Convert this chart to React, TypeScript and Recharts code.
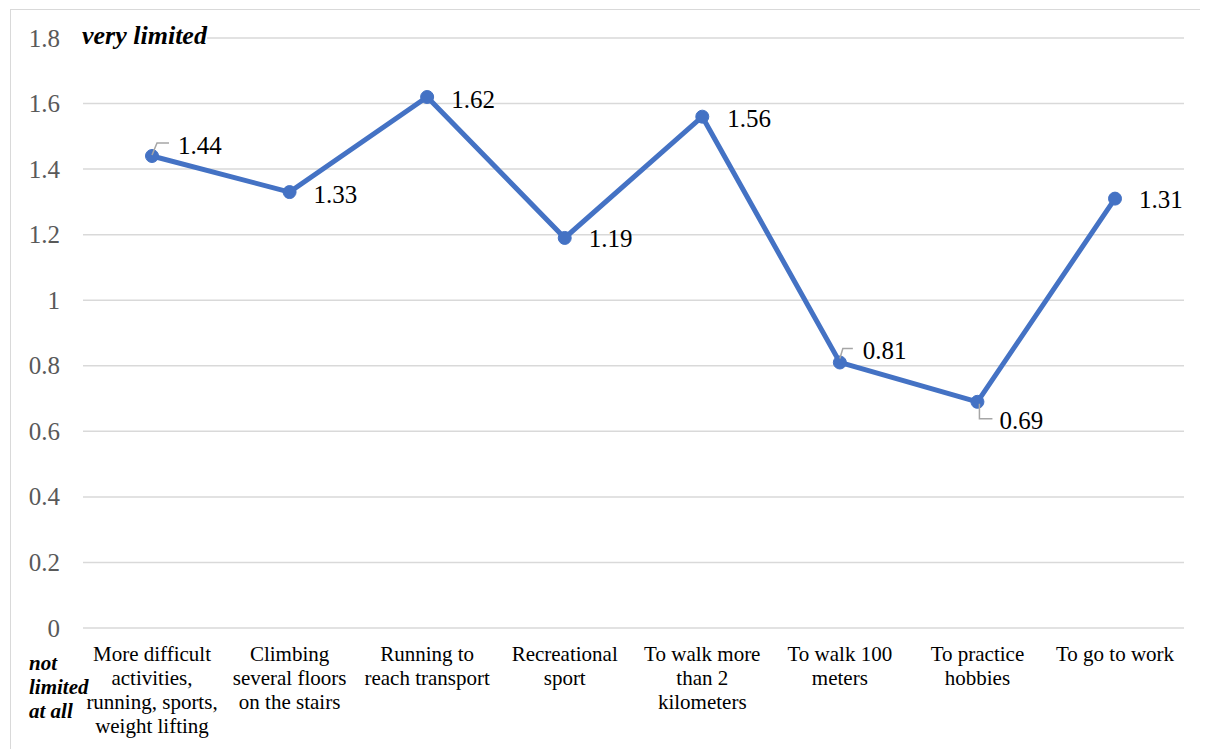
import React from "react";
import { LineChart, Line, XAxis, YAxis, CartesianGrid, LabelList } from "recharts";

const categories = [
  "More difficult\nactivities,\nrunning, sports,\nweight lifting",
  "Climbing\nseveral floors\non the stairs",
  "Running to\nreach transport",
  "Recreational\nsport",
  "To walk more\nthan 2\nkilometers",
  "To walk 100\nmeters",
  "To practice\nhobbies",
  "To go to work",
];
const values = [1.44, 1.33, 1.62, 1.19, 1.56, 0.81, 0.69, 1.31];
const yTicks = [0, 0.2, 0.4, 0.6, 0.8, 1, 1.2, 1.4, 1.6, 1.8];
const topLabel = "very limited";
const bottomLabelLines = ["not", "limited", "at all"];

const data = categories.map((c, i) => ({ name: c, value: values[i] }));

const FONT = "Liberation Serif";
const LINE_COLOR = "#4472C4";

// label offsets relative to the point (dx, dy) and optional leader line
const labelNudges: { dx: number; dy: number; leader?: number[][] }[] = [
  { dx: 26, dy: -11, leader: [[0, -1], [5, -13], [17, -13]] },
  { dx: 24, dy: 2 },
  { dx: 24, dy: 2 },
  { dx: 24, dy: 1 },
  { dx: 25, dy: 2 },
  { dx: 23, dy: -12, leader: [[0, -4], [3, -14], [13, -14]] },
  { dx: 22, dy: 19, leader: [[2, 2], [2, 17], [15, 17]] },
  { dx: 24, dy: 1 },
];

const renderLabel = (props: any) => {
  const { x, y, value, index } = props;
  const n = labelNudges[index] || { dx: 24, dy: 0 };
  return (
    <g>
      {n.leader && (
        <polyline
          points={n.leader.map((p) => `${x + p[0]},${y + p[1]}`).join(" ")}
          fill="none"
          stroke="#a6a6a6"
          strokeWidth={1.5}
        />
      )}
      <text
        x={x + n.dx}
        y={y + n.dy}
        dominantBaseline="central"
        textAnchor="start"
        style={{ fontFamily: FONT, fontSize: 25 }}
        fill="#000"
      >
        {value}
      </text>
    </g>
  );
};

const XTick = (props: any) => {
  const { x, y, payload } = props;
  const lines = String(payload.value).split("\n");
  return (
    <g>
      {lines.map((l, i) => (
        <text
          key={i}
          x={x}
          y={y + 26 + i * 24}
          textAnchor="middle"
          dominantBaseline="central"
          style={{ fontFamily: FONT, fontSize: 21 }}
          fill="#000"
        >
          {l}
        </text>
      ))}
    </g>
  );
};

const YTick = (props: any) => {
  const { x, y, payload } = props;
  return (
    <text
      x={x}
      y={y}
      textAnchor="end"
      dominantBaseline="central"
      style={{ fontFamily: FONT, fontSize: 25 }}
      fill="#595959"
    >
      {payload.value}
    </text>
  );
};

export default function App() {
  return (
    <div style={{ position: "relative", width: 1200, height: 741, overflow: "hidden", background: "#fff", fontFamily: FONT }}>
      <div
        style={{
          position: "absolute",
          left: 2,
          top: 1,
          width: 1220,
          height: 760,
          border: "1px solid #d9d9d9",
        }}
      />
      <LineChart
        width={1200}
        height={741}
        data={data}
        margin={{ top: 30, right: 24, left: 0, bottom: 0 }}
        style={{ position: "absolute", left: 0, top: 0, fontFamily: FONT }}
      >
        <CartesianGrid vertical={false} stroke="#d9d9d9" strokeWidth={1.5} />
        <XAxis
          dataKey="name"
          height={121}
          axisLine={false}
          tickLine={false}
          tickSize={0}
          tickMargin={0}
          interval={0}
          padding={{ left: 69, right: 69 }}
          tick={<XTick />}
        />
        <YAxis
          width={75}
          domain={[0, 1.8]}
          ticks={yTicks}
          axisLine={false}
          tickLine={false}
          tickSize={0}
          tickMargin={23}
          tick={<YTick />}
        />
        <Line
          type="linear"
          dataKey="value"
          stroke={LINE_COLOR}
          strokeWidth={5}
          dot={{ r: 6.5, fill: LINE_COLOR, stroke: LINE_COLOR, strokeWidth: 1 }}
          isAnimationActive={false}
        >
          <LabelList dataKey="value" content={renderLabel} />
        </Line>
      </LineChart>
      <div
        style={{
          position: "absolute",
          left: 74,
          top: 14,
          fontFamily: FONT,
          fontSize: 26,
          fontWeight: "bold",
          fontStyle: "italic",
          lineHeight: "28px",
          background: "#fff",
          whiteSpace: "nowrap",
        }}
      >
        {topLabel}
      </div>
      <div
        style={{
          position: "absolute",
          left: 21,
          top: 643,
          fontFamily: FONT,
          fontSize: 21,
          fontWeight: "bold",
          fontStyle: "italic",
          lineHeight: "24px",
          whiteSpace: "nowrap",
        }}
      >
        {bottomLabelLines.map((l, i) => (
          <div key={i}>{l}</div>
        ))}
      </div>
    </div>
  );
}
